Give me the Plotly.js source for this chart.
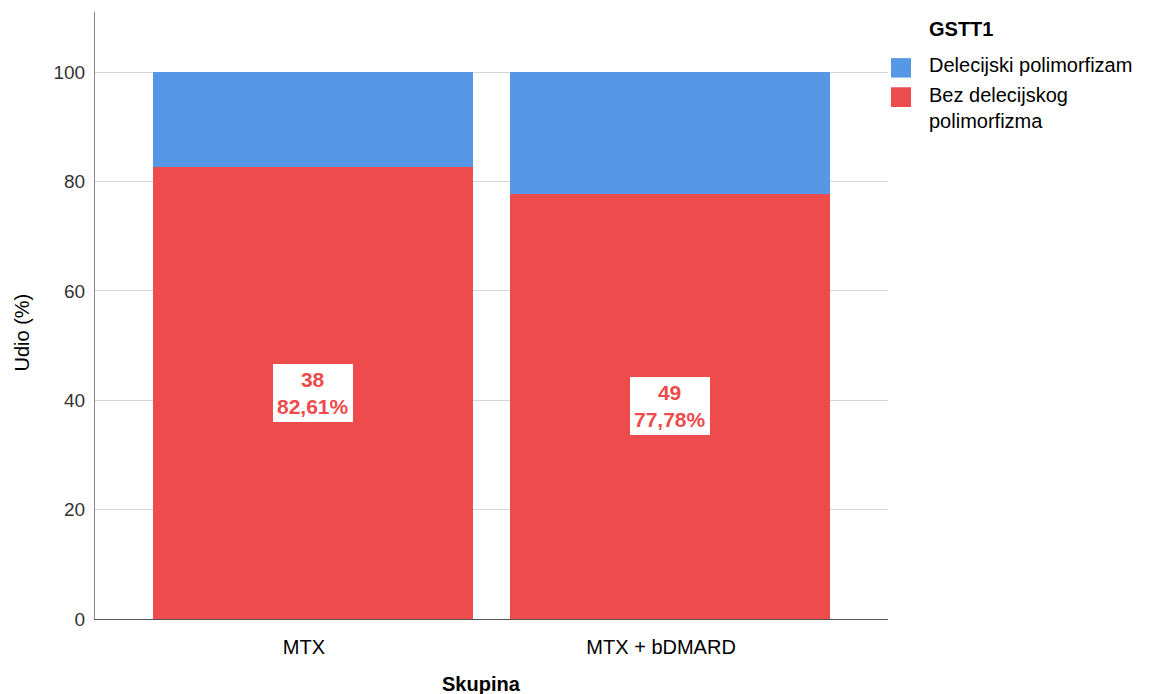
<!DOCTYPE html>
<html><head><meta charset="utf-8">
<script src="https://cdn.plot.ly/plotly-3.0.1.min.js"></script>
<style>html,body{margin:0;padding:0;background:#fff}</style>
</head><body>
<div id="chart" style="width:1151px;height:694px"></div>
<script>
const categories = ["MTX", "MTX + bDMARD"];
const seriesNames = ["Bez delecijskog<br>polimorfizma", "Delecijski polimorfizam"];
const legendTitle = "GSTT1";
const pctBez = [82.61, 77.78];
const pctDel = [17.39, 22.22];
const countBez = [38, 49];
const yTicks = [0, 20, 40, 60, 80, 100];

const red = "#ee4b4c";
const blue = "#5698e6";
const colors = [red, blue];
const FONT = "Liberation Sans, Arial, sans-serif";

const traces = [
  {type: "bar", name: seriesNames[0], x: categories, y: pctBez, width: 0.898,
   marker: {color: red, line: {width: 0}}, hoverinfo: "none", showlegend: false},
  {type: "bar", name: seriesNames[1], x: categories, y: pctDel, width: 0.898,
   marker: {color: blue, line: {width: 0}}, hoverinfo: "none", showlegend: false}
];

const annotations = categories.map((c, i) => ({
  x: c, y: pctBez[i] / 2, xref: "x", yref: "y",
  text: "<b>" + countBez[i] + "<br>" + pctBez[i].toFixed(2).replace(".", ",") + "%</b>",
  showarrow: false, bgcolor: "#ffffff", bordercolor: "#ffffff", borderwidth: 1, borderpad: 3,
  font: {family: FONT, size: 21, color: red},
  align: "center"
}));

// axis titles
annotations.push({
  xref: "paper", yref: "paper", x: 0.487, y: -0.107, xanchor: "center", yanchor: "middle",
  text: "<b>Skupina</b>", showarrow: false,
  font: {family: FONT, size: 20, color: "#000"}
});
annotations.push({
  xref: "paper", yref: "paper", x: -0.092, y: 0.472, xanchor: "center", yanchor: "middle",
  text: "Udio (%)", textangle: -90, showarrow: false,
  font: {family: FONT, size: 20, color: "#000"}
});

// legend (custom, to match square swatch size)
annotations.push({
  xref: "paper", yref: "paper", x: 1.049, y: 0.9712, xanchor: "left", yanchor: "middle",
  text: "<b>" + legendTitle + "</b>", showarrow: false, align: "left",
  font: {family: FONT, size: 20, color: "#000"}
});
const legendOrder = [1, 0];
const legendTextY = [0.912, 0.8415];
const swatchY = [[0.892, 0.924], [0.8435, 0.876]];
const shapes = [];
legendOrder.forEach((s, k) => {
  annotations.push({
    xref: "paper", yref: "paper", x: 1.049, y: legendTextY[k], xanchor: "left", yanchor: "middle",
    text: seriesNames[s], showarrow: false, align: "left",
    font: {family: FONT, size: 20, color: "#000"}
  });
  shapes.push({
    type: "rect", xref: "paper", yref: "paper",
    x0: 1.0038, x1: 1.029, y0: swatchY[k][0], y1: swatchY[k][1],
    fillcolor: colors[s], line: {width: 0}
  });
});

const layout = {
  width: 1151, height: 694,
  margin: {l: 95, r: 263, t: 12, b: 75},
  paper_bgcolor: "#fff", plot_bgcolor: "#fff",
  barmode: "stack", bargap: 0,
  showlegend: false,
  xaxis: {
    type: "category", range: [-0.61, 1.61],
    showgrid: false, zeroline: false,
    showline: true, linecolor: "#555", linewidth: 1,
    ticks: "", ticklabelstandoff: 10, ticklabelshift: -9,
    tickfont: {family: FONT, size: 20, color: "#000"}
  },
  yaxis: {
    range: [0, 111], tickvals: yTicks, ticktext: yTicks.map(String),
    showgrid: true, gridcolor: "#d6d6d6", gridwidth: 1,
    zeroline: false, showline: true, linecolor: "#888", linewidth: 1,
    ticks: "", ticklabelstandoff: 5,
    tickfont: {family: FONT, size: 19, color: "#333"}
  },
  annotations: annotations,
  shapes: shapes
};

Plotly.newPlot("chart", traces, layout, {displayModeBar: false, staticPlot: true});
</script>
</body></html>
